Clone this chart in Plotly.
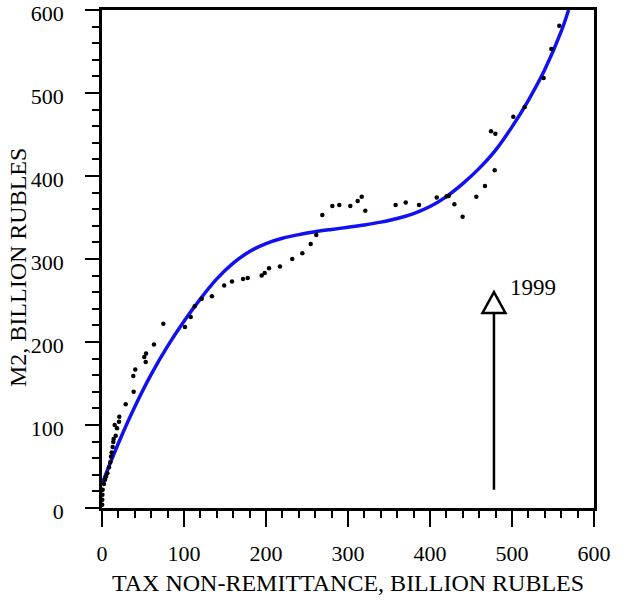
import plotly.graph_objects as go

# Observed data points (tax non-remittance, M2), billion rubles
dots_x = [0.2, 0.3, 0.5, 0.8, 2.4, 3.7, 4.9, 6.5, 8.5, 10.1, 11.0, 11.8, 13.0, 13.8, 14.2,
          16.7, 18.3, 15.5, 20.7, 21.1, 28.9, 38.6, 38.2, 40.6, 53.3, 51.6, 53.7, 63.4, 74.8,
          101.2, 108.2, 113.0, 121.6, 134.0, 149.0, 158.5, 172.0, 177.7, 194.7, 198.4, 203.7,
          217.0, 232.0, 244.3, 254.5, 261.3, 268.7, 280.9, 289.4, 302.8, 311.8, 316.7, 321.1,
          358.1, 370.4, 386.6, 408.2, 420.3, 422.8, 429.7, 439.8, 456.5, 467.0, 478.9, 474.4,
          479.7, 501.6, 515.5, 538.6, 548.0, 557.7]
dots_y = [4, 10, 16, 22, 29, 34, 38, 42, 49, 55, 62, 67, 73.5, 79.5, 83,
          87, 96, 100, 104, 110, 125, 140, 159, 167, 176, 182, 186, 197, 222,
          218, 230, 243, 252, 255, 268, 273, 276, 277, 280, 283, 289,
          291, 300, 307, 318, 329, 353, 364, 365, 364, 370, 375, 358,
          365, 368, 365, 374, 375.5, 376, 366, 351, 375, 388, 407, 454,
          451, 471.5, 483, 518, 553, 581]

# Fitted curve
curve_x = [0, 20, 40, 60, 80, 100, 120, 140, 160, 180,
           200, 220, 240, 260, 280, 300, 320, 340, 360, 380,
           400, 420, 440, 460, 480, 500, 520, 540, 560, 569]
curve_y = [29, 78, 122, 161, 195, 225, 252, 276, 295, 309,
           318.6, 325, 329.4, 332.8, 335.6, 338.2, 341, 344.4, 348.8, 354.8,
           363.2, 375.2, 390.8, 409.2, 431.2, 459.2, 491.2, 528.2, 574.2, 600]

tick_vals = [0, 100, 200, 300, 400, 500, 600]
tick_text = ["0", "100", "200", "300", "400", "500", "600"]

x_title = "TAX NON-REMITTANCE, BILLION RUBLES"
y_title = "M2, BILLION RUBLES"

# 1999 arrow annotation
arrow_x = 478
arrow_y0 = 22
arrow_base = 235
arrow_tip = 260
arrow_half = 14
arrow_label = "1999"
label_x = 526
label_y = 266

FONT = "Liberation Serif"

fig = go.Figure()
fig.add_trace(go.Scatter(x=curve_x, y=curve_y, mode="lines",
                         line=dict(color="#1010F0", width=3.5, shape="spline", smoothing=1.0),
                         hoverinfo="skip", showlegend=False))
fig.add_trace(go.Scatter(x=dots_x, y=dots_y, mode="markers",
                         marker=dict(color="black", size=4.5), showlegend=False))

fig.add_shape(type="line", x0=arrow_x, x1=arrow_x, y0=arrow_y0, y1=arrow_base,
              line=dict(color="black", width=2.5), xref="x", yref="y")
fig.add_shape(type="path",
              path=f"M {arrow_x - arrow_half} {arrow_base} L {arrow_x + arrow_half} {arrow_base} L {arrow_x} {arrow_tip} Z",
              line=dict(color="black", width=2.5), fillcolor="white", xref="x", yref="y")
fig.add_annotation(x=label_x, y=label_y, text=arrow_label, showarrow=False,
                   font=dict(family=FONT, size=23, color="black"), xref="x", yref="y")

# Axis titles as annotations for precise placement
fig.add_annotation(x=0, y=0.5, xref="paper", yref="paper", text=y_title, showarrow=False,
                   textangle=-90, xanchor="center", yanchor="middle", xshift=-84, yshift=-9,
                   font=dict(family=FONT, size=24, color="black"))
fig.add_annotation(x=0.5, y=0, xref="paper", yref="paper", text=x_title, showarrow=False,
                   xanchor="center", yanchor="middle", yshift=-75,
                   font=dict(family=FONT, size=24, color="black"))

axis_common = dict(
    showgrid=False, zeroline=False, showline=True, linecolor="black", linewidth=2.5,
    mirror=True, ticks="outside", tickwidth=2, tickcolor="black",
    tickvals=tick_vals, ticktext=tick_text,
    tickfont=dict(family=FONT, size=22, color="black"),
    range=[0, 600], ticklabeloverflow="allow",
    minor=dict(dtick=20, tick0=0, ticks="outside", ticklen=7, tickwidth=1.5, tickcolor="black"),
)

fig.update_xaxes(**axis_common, ticklen=16, ticklabelstandoff=8)
fig.update_yaxes(**axis_common, ticklen=14, ticklabelstandoff=17, ticklabelshift=3)

fig.update_layout(
    width=626, height=600,
    font=dict(family=FONT, color="black"),
    margin=dict(l=102, r=32, t=10, b=92, autoexpand=False),
    plot_bgcolor="white", paper_bgcolor="white",
    showlegend=False,
)

fig.write_html("out.html", config={"displayModeBar": False},
               post_script="document.body.style.margin='0';")
